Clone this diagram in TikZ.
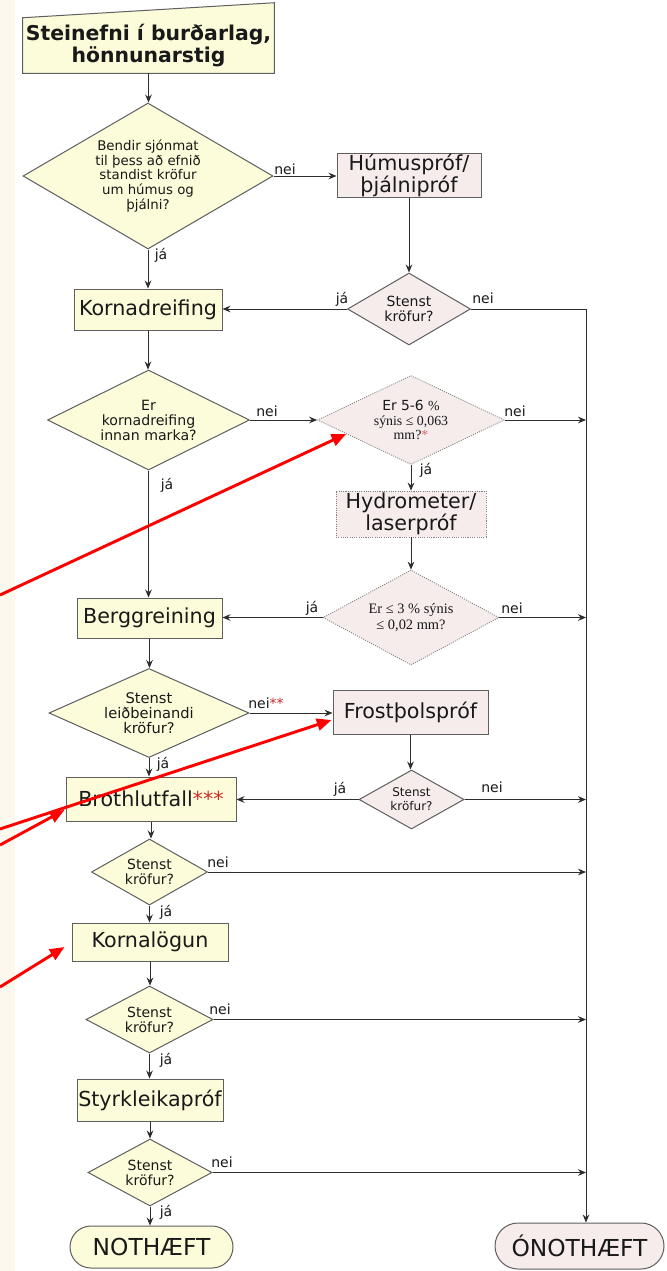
\documentclass[tikz,border=0pt]{standalone}
\usepackage{fontspec}
\setmainfont{DejaVu Sans}
\newfontfamily\tnr{Liberation Serif}
\usetikzlibrary{shapes.geometric,shapes.misc,arrows.meta,calc,backgrounds}

\definecolor{boxyellow}{RGB}{252,252,218}
\definecolor{boxpink}{RGB}{246,236,236}
\definecolor{edgegrey}{RGB}{95,95,95}
\definecolor{linegrey}{RGB}{45,45,45}
\definecolor{cream}{RGB}{252,248,237}
\definecolor{starred}{RGB}{200,45,45}
\definecolor{txt}{RGB}{25,25,25}

\begin{document}
\begin{tikzpicture}[x=0.75pt,y=-0.75pt,
  every node/.style={inner sep=0pt, text=txt},
  base/.style={draw=edgegrey, line width=0.75pt},
  dots/.style={draw=edgegrey!80, line width=0.6pt, dash pattern=on 0.8pt off 0.9pt},
  boxfont/.style={font=\fontsize{15.5}{15.5}\selectfont},
  ybox/.style={base, fill=boxyellow, rectangle, boxfont, align=center},
  pbox/.style={base, fill=boxpink, rectangle, boxfont, align=center},
  dia/.style={diamond, align=center},
  ydia/.style={dia, base, fill=boxyellow},
  pdia/.style={dia, base, fill=boxpink},
  small/.style={font=\fontsize{10.5}{11.25}\selectfont},
  flow/.style={draw=linegrey, line width=0.7pt, -{Stealth[length=6pt,width=5pt,inset=2pt]}},
  plain/.style={draw=linegrey, line width=0.7pt},
  lbl/.style={font=\fontsize{10.5}{10.5}\selectfont},
  redarrow/.style={draw=red, line width=2.2pt, -{Triangle[length=11pt,width=9pt]}},
]

% ---------- start box (text only; outline drawn on the background layer)
\node[font=\bfseries\fontsize{15.3}{14}\selectfont, align=center,
      minimum width=188.25pt, minimum height=41.25pt] (title) at (148.5,45.5)
      {Steinefni í burðarlag,\\hönnunarstig};

% ---------- main column
\node[ydia, font=\fontsize{10}{11}\selectfont, minimum width=187.5pt, minimum height=109.5pt,
      shape aspect=1.71] (d1) at (148,176)
      {Bendir sjónmat\\til þess að efnið\\standist kröfur\\um húmus og\\þjálni?};
\node[ybox, minimum width=111pt, minimum height=30.75pt] (korn) at (148,309.5) {Kornadreifing};
\node[ydia, font=\fontsize{10.6}{11.25}\selectfont, minimum width=151.5pt, minimum height=75pt,
      shape aspect=2.02] (d3) at (148.5,420) {Er\\kornadreifing\\innan marka?};
\node[ybox, minimum width=108.75pt, minimum height=30pt] (berg) at (149.5,618) {Berggreining};
\node[ydia, font=\fontsize{11}{11}\selectfont, minimum width=150pt, minimum height=66.75pt,
      shape aspect=2.25] (d6) at (149,713) {Stenst\\leiðbeinandi\\kröfur?};
\node[ybox, minimum width=127.5pt, minimum height=33pt] (broth) at (151,799)
      {Brothlutfall{\color{starred}***}};
\node[ydia, small, minimum width=87pt, minimum height=49.5pt, shape aspect=1.76] (d8) at (149.5,872)
      {Stenst\\kröfur?};
\node[ybox, minimum width=117pt, minimum height=28.5pt] (kornal) at (150,942) {Kornalögun};
\node[ydia, small, minimum width=95.25pt, minimum height=50.25pt, shape aspect=1.9] (d9) at (149.5,1019.5)
      {Stenst\\kröfur?};
\node[ybox, minimum width=109.5pt, minimum height=31.5pt] (styrk) at (150,1100) {Styrkleikapróf};
\node[ydia, small, minimum width=93pt, minimum height=50.25pt, shape aspect=1.85] (d10) at (150,1172.5)
      {Stenst\\kröfur?};
\node[rounded rectangle, base, fill=boxyellow, font=\fontsize{17.5}{18}\selectfont,
      minimum width=122.25pt, minimum height=31.5pt] (noth) at (151.5,1247) {NOTHÆFT};

% ---------- side column
\node[pbox, minimum width=108pt, minimum height=33pt] (humus) at (409,175) {Húmuspróf/\\þjálnipróf};
\node[pdia, small, minimum width=92.25pt, minimum height=54pt, shape aspect=1.71] (d2) at (409,309)
      {Stenst\\kröfur?};
\node[dia, dots, fill=boxpink, font=\fontsize{10.4}{11}\selectfont, minimum width=140.25pt,
      minimum height=66.75pt, shape aspect=2.1] (d4) at (411,420)
      {Er 5-6 {\tnr\%}\\{\tnr sýnis ≤ 0,063}\\{\tnr mm?{\color{starred!70}*}}};
\node[rectangle, dots, fill=boxpink, boxfont, align=center, minimum width=112.5pt,
      minimum height=34.5pt] (hydro) at (411,514) {Hydrometer/\\laserpróf};
\node[dia, dots, fill=boxpink, font=\tnr\fontsize{10.8}{12}\selectfont, minimum width=132pt,
      minimum height=71.25pt, shape aspect=1.85] (d5) at (411,617.5)
      {Er ≤ 3 \% sýnis\\≤ 0,02 mm?};
\node[pbox, minimum width=116.25pt, minimum height=33pt] (frost) at (410.5,712) {Frostþolspróf};
\node[pdia, font=\fontsize{9}{10.5}\selectfont, minimum width=78.75pt, minimum height=44.25pt,
      shape aspect=1.78] (d7) at (411.5,799.5) {Stenst\\kröfur?};
\node[rounded rectangle, base, fill=boxpink, font=\fontsize{17.5}{18}\selectfont,
      minimum width=126.75pt, minimum height=34.5pt] (onoth) at (579.5,1246) {ÓNOTHÆFT};

% ---------- background, margin strip and start-box outline
\begin{scope}[on background layer]
  \fill[white] (0,0) rectangle (667,1271);
  \fill[cream] (0,0) rectangle (15,1271);
  \draw[base, fill=boxyellow] (title.south west) -- (title.south east)
       -- ($(title.north east)+(0,-15)$) -- (title.north west) -- cycle;
\end{scope}
\useasboundingbox (0,0) rectangle (667,1271);

% ---------- connectors
\coordinate (trunk) at (586,309);

\draw[flow] (title.south) -- (title.south |- d1.north);
\draw[flow] (d1.east) -- (d1.east -| humus.west);
\draw[flow] (humus.south) -- (humus.south |- d2.north);
\draw[flow] (d2.west) -- (d2.west -| korn.east);
\draw[plain] (d2.east) -- (trunk);
\draw[flow] (trunk) -- (trunk |- onoth.north);
\draw[flow] (d1.south) -- (d1.south |- korn.north);
\draw[flow] (korn.south) -- (korn.south |- d3.north);
\draw[flow] (d3.east) -- (d3.east -| d4.west);
\draw[flow] (d4.east) -- (d4.east -| trunk);
\draw[flow] (d4.south) -- (d4.south |- hydro.north);
\draw[flow] (hydro.south) -- (hydro.south |- d5.north);
\draw[flow] (d5.west) -- (d5.west -| berg.east);
\draw[flow] (d5.east) -- (d5.east -| trunk);
\draw[flow] (d3.south) -- (d3.south |- berg.north);
\draw[flow] (berg.south) -- (berg.south |- d6.north);
\draw[flow] (d6.east) -- (d6.east -| frost.west);
\draw[flow] (frost.south) -- (frost.south |- d7.north);
\draw[flow] (d7.west) -- (d7.west -| broth.east);
\draw[flow] (d7.east) -- (d7.east -| trunk);
\draw[flow] (d6.south) -- (d6.south |- broth.north);
\draw[flow] (broth.south) -- (broth.south |- d8.north);
\draw[flow] (d8.east) -- (d8.east -| trunk);
\draw[flow] (d8.south) -- (d8.south |- kornal.north);
\draw[flow] (kornal.south) -- (kornal.south |- d9.north);
\draw[flow] (d9.east) -- (d9.east -| trunk);
\draw[flow] (d9.south) -- (d9.south |- styrk.north);
\draw[flow] (styrk.south) -- (styrk.south |- d10.north);
\draw[flow] (d10.east) -- (d10.east -| trunk);
\draw[flow] (d10.south) -- (d10.south |- noth.north);

% ---------- branch labels
\node[lbl] (n1) at (285,169) {nei};
\node[lbl] (j1) at (161,255) {já};
\node[lbl] (j2) at (342,299) {já};
\node[lbl] (n2) at (483,298) {nei};
\node[lbl] (n3) at (267,411) {nei};
\node[lbl] (j3) at (167,485) {já};
\node[lbl] (n4) at (515,411) {nei};
\node[lbl] (j4) at (426,470) {já};
\node[lbl] (j5) at (312,608) {já};
\node[lbl] (n5) at (512,608) {nei};
\node[lbl] (n6) at (266,703) {nei{\color{starred}**}};
\node[lbl] (j6) at (163,764) {já};
\node[lbl] (j7) at (340,789) {já};
\node[lbl] (n7) at (492,787) {nei};
\node[lbl] (n8) at (218,862) {nei};
\node[lbl] (j8) at (166,912) {já};
\node[lbl] (n9) at (220,1009) {nei};
\node[lbl] (j9) at (166,1060) {já};
\node[lbl] (n10) at (222,1162) {nei};
\node[lbl] (j10) at (166,1212) {já};

% ---------- red pointers
\coordinate (r1) at (0,595);
\coordinate (r2) at (0,829);
\coordinate (r3) at (0,845);
\coordinate (r4) at (0,987);
\draw[redarrow] (r1) -- ($(d4.west)!0.31!(d4.south)$);
\draw[redarrow] (r2) -- ($(frost.west)+(-1,8)$);
\draw[redarrow] (r3) -- ($(broth.west)+(-1,11)$);
\draw[redarrow] (r4) -- ($(kornal.west)+(-7,5)$);
\end{tikzpicture}
\end{document}
